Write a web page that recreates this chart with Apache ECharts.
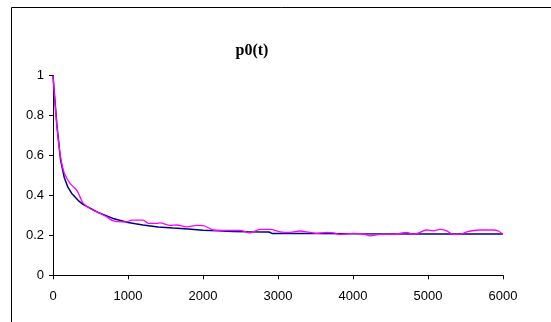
<!DOCTYPE html>
<html>
<head>
<meta charset="utf-8">
<script src="https://cdn.jsdelivr.net/npm/echarts@6/dist/echarts.min.js"></script>
<style>html,body{margin:0;padding:0;background:#fff}#c{width:551px;height:322px}</style>
</head>
<body>
<div id="c"></div>
<script>
var xTicks = [0, 1000, 2000, 3000, 4000, 5000, 6000];
var yTicks = [0, 0.2, 0.4, 0.6, 0.8, 1];

var tTheory = [0, 50, 100, 150, 200, 250, 300, 350, 400, 500, 600, 700, 800, 900, 1000, 1100, 1200, 1300, 1400, 1500, 1600, 1700, 1800, 2000, 2200, 2400, 2600, 2800, 2880, 2920, 3500, 4000, 5000, 6000];
var pTheory = [1.0, 0.76, 0.58, 0.49, 0.44, 0.41, 0.39, 0.37, 0.355, 0.335, 0.315, 0.30, 0.285, 0.275, 0.265, 0.258, 0.252, 0.247, 0.242, 0.24, 0.237, 0.235, 0.232, 0.226, 0.223, 0.22, 0.218, 0.217, 0.217, 0.21, 0.209, 0.208, 0.207, 0.207];

var tSim = [0, 71, 138, 227, 316, 360, 404, 493, 627, 716, 804, 982, 1049, 1200, 1271, 1382, 1427, 1560, 1649, 1782, 1916, 2005, 2138, 2271, 2493, 2627, 2760, 2893, 3027, 3160, 3293, 3382, 3516, 3649, 3738, 3827, 4005, 4138, 4227, 4360, 4538, 4627, 4716, 4804, 4893, 4982, 5071, 5160, 5249, 5338, 5427, 5516, 5693, 5871, 5938, 6000];
var pSim = [1.0, 0.676, 0.527, 0.46, 0.427, 0.393, 0.36, 0.335, 0.31, 0.293, 0.273, 0.268, 0.276, 0.276, 0.26, 0.26, 0.263, 0.25, 0.252, 0.243, 0.25, 0.249, 0.227, 0.225, 0.225, 0.213, 0.23, 0.23, 0.218, 0.215, 0.222, 0.218, 0.21, 0.215, 0.213, 0.205, 0.21, 0.207, 0.198, 0.205, 0.205, 0.21, 0.215, 0.205, 0.215, 0.227, 0.223, 0.23, 0.223, 0.205, 0.205, 0.218, 0.227, 0.227, 0.222, 0.205];

function pairs(t, p) { return t.map(function (v, i) { return [v, p[i]]; }); }

var chart = echarts.init(document.getElementById('c'), null, {renderer: 'canvas'});
chart.setOption({
  animation: false,
  backgroundColor: '#fff',
  graphic: [
    {type: 'rect', shape: {x: 11.5, y: 7.5, width: 700, height: 500}, style: {fill: 'none', stroke: '#000', lineWidth: 1}, z: 100},
    {type: 'text', x: 252, y: 51, style: {text: 'p0(t)', textAlign: 'center', textVerticalAlign: 'middle', font: 'bold 16px "Liberation Serif"', fill: '#000'}}
  ],
  grid: {left: 53, right: 48, top: 75.7, bottom: 46.7, containLabel: false},
  xAxis: {
    type: 'value', min: xTicks[0], max: xTicks[xTicks.length - 1], interval: 1000,
    axisLine: {lineStyle: {color: '#000', width: 1}},
    axisTick: {show: true, length: 4, inside: false, lineStyle: {color: '#000'}},
    axisLabel: {color: '#000', fontFamily: 'Liberation Sans', fontSize: 13, margin: 15, formatter: function (v) { return String(v); }},
    splitLine: {show: false}
  },
  yAxis: {
    type: 'value', min: yTicks[0], max: yTicks[yTicks.length - 1], interval: 0.2,
    axisLine: {show: true, lineStyle: {color: '#000', width: 1}},
    axisTick: {show: true, length: 4, inside: false, lineStyle: {color: '#000'}},
    axisLabel: {color: '#000', fontFamily: 'Liberation Sans', fontSize: 13, margin: 9, formatter: function (v) { return String(Math.round(v * 10) / 10); }},
    splitLine: {show: false}
  },
  series: [
    {type: 'line', data: pairs(tTheory, pTheory), showSymbol: false, symbol: 'none', lineStyle: {color: '#000080', width: 1.5}, z: 2},
    {type: 'line', data: pairs(tSim, pSim), showSymbol: false, symbol: 'none', smooth: 0.3, lineStyle: {color: '#ff00ff', width: 1.3}, z: 3}
  ]
});
</script>
</body>
</html>
